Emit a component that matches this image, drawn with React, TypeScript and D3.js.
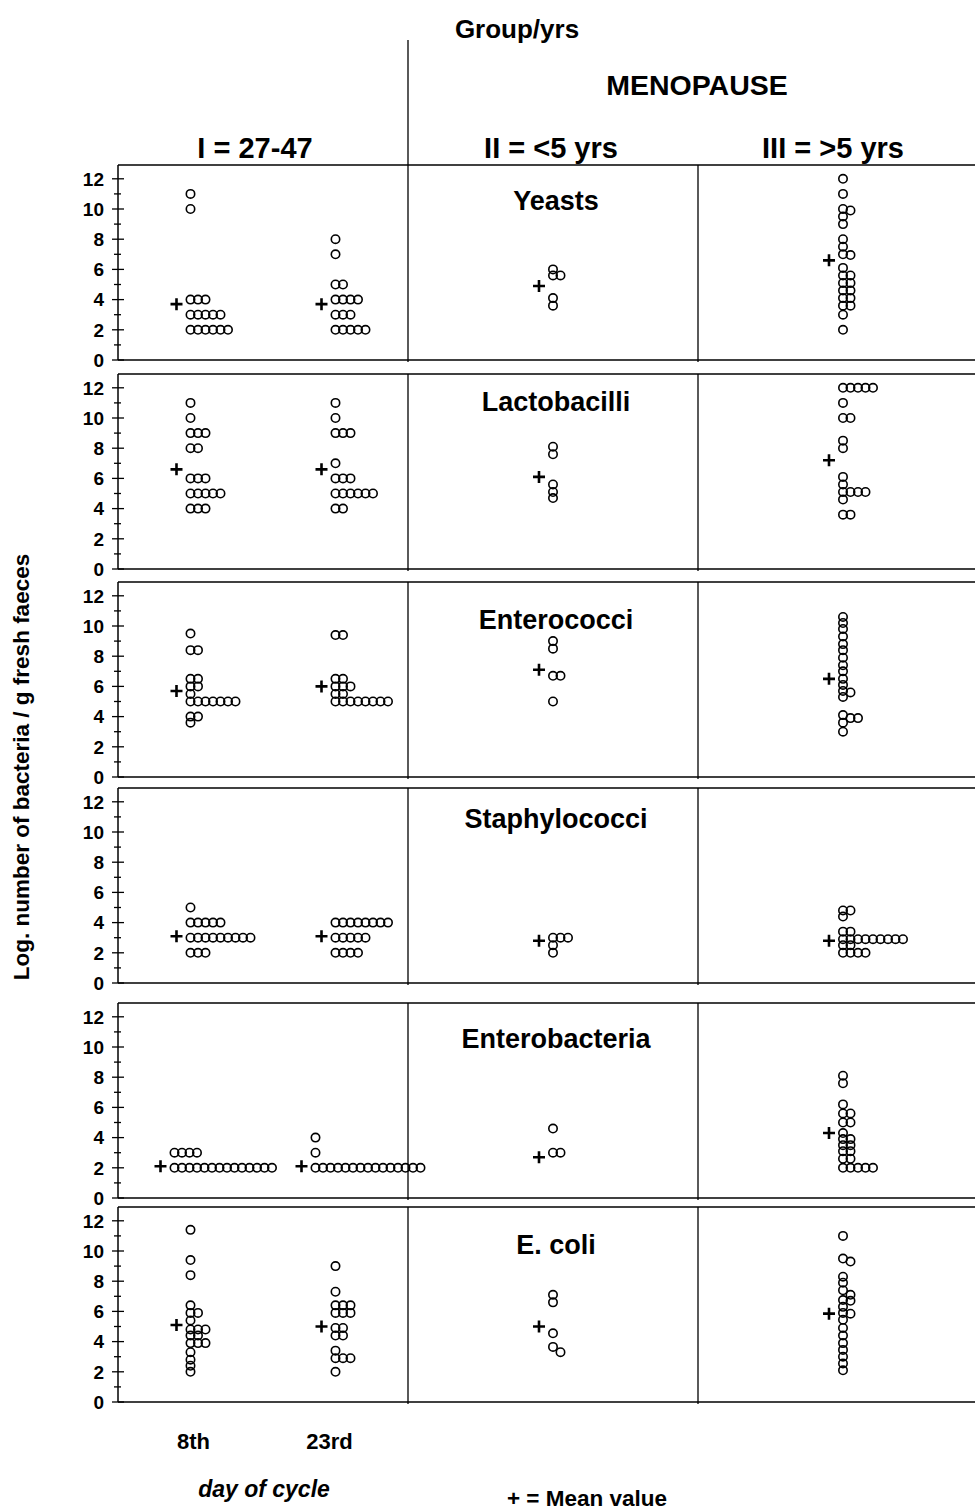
import React from 'react'
import * as d3 from 'd3'

// columns of the figure and the four dot groups
const columns = ['I', 'II', 'III']
const columnLabels = ['I = 27-47', 'II = <5 yrs', 'III = >5 yrs']
const groupColumn = ['I', 'I', 'II', 'III']
const dayLabels = ['8th', '23rd']
const panelNames = ['Yeasts', 'Lactobacilli', 'Enterococci', 'Staphylococci', 'Enterobacteria', 'E. coli']

// log counts per group: [8th, 23rd, II, III]
const yeasts = [
  [11, 10, 4, 4, 4, 3, 3, 3, 3, 3, 2, 2, 2, 2, 2, 2],
  [8, 7, 5, 5, 4, 4, 4, 4, 3, 3, 3, 2, 2, 2, 2, 2],
  [6.0, 5.6, 5.6, 4.1, 3.6],
  [12, 11, 10, 9.9, 9.5, 9.0, 8.0, 7.5, 7.0, 6.95, 6.1, 5.6, 5.6, 5.1, 5.1, 4.6, 4.6, 4.1, 4.1, 3.6, 3.6, 3.0, 2.0],
]
const lactobacilli = [
  [11, 10, 9, 9, 9, 8, 8, 6, 6, 6, 5, 5, 5, 5, 5, 4, 4, 4],
  [11, 10, 9, 9, 9, 7, 6, 6, 6, 5, 5, 5, 5, 5, 5, 4, 4],
  [8.1, 7.6, 5.6, 5.1, 4.7],
  [12, 12, 12, 12, 12, 11, 10, 10, 8.5, 8.0, 6.1, 5.6, 5.1, 5.1, 5.1, 5.1, 4.6, 3.6, 3.6],
]
const enterococci = [
  [9.5, 8.4, 8.4, 6.5, 6.5, 6.0, 6.0, 5.5, 5, 5, 5, 5, 5, 5, 5, 4.0, 4.0, 3.6],
  [9.4, 9.4, 6.5, 6.5, 6.0, 6.0, 6.0, 5.5, 5.5, 5, 5, 5, 5, 5, 5, 5, 5],
  [9.0, 8.5, 6.7, 6.7, 5.0],
  [10.6, 10.2, 9.8, 9.3, 8.8, 8.4, 7.9, 7.4, 7.0, 6.5, 6.1, 5.7, 5.6, 5.3, 4.1, 3.9, 3.9, 3.6, 3.0],
]
const staphylococci = [
  [5, 4, 4, 4, 4, 4, 3, 3, 3, 3, 3, 3, 3, 3, 3, 2, 2, 2],
  [4, 4, 4, 4, 4, 4, 4, 4, 3, 3, 3, 3, 3, 2, 2, 2, 2],
  [3.0, 3.0, 3.0, 2.5, 2.0],
  [4.8, 4.8, 4.4, 3.4, 3.4, 2.9, 2.9, 2.9, 2.9, 2.9, 2.9, 2.9, 2.9, 2.9, 2.5, 2.5, 2.0, 2.0, 2.0, 2.0],
]
const enterobacteria = [
  [3, 3, 3, 3, 2, 2, 2, 2, 2, 2, 2, 2, 2, 2, 2, 2, 2, 2],
  [4, 3, 2, 2, 2, 2, 2, 2, 2, 2, 2, 2, 2, 2, 2, 2, 2],
  [4.6, 3.0, 3.0],
  [8.1, 7.6, 6.2, 5.6, 5.6, 5.0, 5.0, 4.3, 3.9, 3.9, 3.5, 3.5, 3.1, 3.1, 2.6, 2.6, 2.0, 2.0, 2.0, 2.0, 2.0],
]
const eColi = [
  [11.4, 9.4, 8.4, 6.4, 5.9, 5.9, 5.4, 4.8, 4.8, 4.8, 4.4, 4.4, 3.9, 3.9, 3.9, 3.3, 2.8, 2.4, 2.0],
  [9.0, 7.3, 6.4, 6.4, 6.4, 5.9, 5.9, 5.9, 4.9, 4.9, 4.4, 4.4, 3.4, 2.9, 2.9, 2.9, 2.0],
  [7.1, 6.6, 4.55, 3.65, 3.3],
  [11.0, 9.5, 9.3, 8.3, 7.9, 7.4, 7.1, 6.75, 6.7, 6.3, 5.9, 5.85, 5.45, 4.9, 4.4, 3.9, 3.45, 3.0, 2.55, 2.1],
]
const panelValues = [yeasts, lactobacilli, enterococci, staphylococci, enterobacteria, eColi]

// mean values (the + markers)
const yeastsMean = [3.7, 3.7, 4.9, 6.6]
const lactobacilliMean = [6.6, 6.6, 6.1, 7.2]
const enterococciMean = [5.7, 6.0, 7.1, 6.5]
const staphylococciMean = [3.1, 3.1, 2.8, 2.8]
const enterobacteriaMean = [2.1, 2.1, 2.7, 4.3]
const eColiMean = [5.1, 5.0, 5.0, 5.85]
const panelMeans = [yeastsMean, lactobacilliMean, enterococciMean, staphylococciMean, enterobacteriaMean, eColiMean]

const yTicks = d3.range(0, 13)

// layout
const W = 975
const H = 1512
const FONT = '"Liberation Sans", Arial, Helvetica, sans-serif'
const axisX = 118
const panelBase = [360, 569, 777, 983, 1198, 1402] // y of 0 in each panel
const titleLift = [150, 158, 148, 155, 150, 148] // panel name height above 0
const unit = 15.1
const panelTop = 195
const groupFrac = [0.25, 0.75, 0.5, 0.5]
const dotR = 4.2
const dotStep = 7.5
const minGap = 5.5

const xCol = d3.scaleBand<string>().domain(columns).range([axisX, axisX + 870])

function swarm(values: number[], y: d3.ScaleLinear<number, number>, x0: number) {
  const cols: number[][] = []
  const placed = values.map((v) => {
    const yy = y(v)
    let c = 0
    while (cols[c] && cols[c].some((o) => Math.abs(o - yy) < minGap)) c++
    if (!cols[c]) cols[c] = []
    cols[c].push(yy)
    return { c, y: yy }
  })
  const shift = cols.length > 10 ? (cols.length - 10) * 4 : 0
  return placed.map((p) => ({ x: x0 - shift + p.c * dotStep, y: p.y }))
}

function Panel({ index }: { index: number }) {
  const base = panelBase[index]
  const y = d3.scaleLinear().domain([0, 12]).range([base, base - 12 * unit])
  const top = base - panelTop
  const values = panelValues[index]
  const means = panelMeans[index]
  return (
    <g>
      <line x1={axisX} x2={W} y1={top} y2={top} stroke="#000" strokeWidth={1.5} />
      <line x1={axisX} x2={W} y1={base} y2={base} stroke="#000" strokeWidth={1.5} />
      <line x1={axisX} x2={axisX} y1={top} y2={base} stroke="#000" strokeWidth={1.5} />
      {columns.slice(1).map((c) => (
        <line key={c} x1={xCol(c)} x2={xCol(c)} y1={top} y2={base + 2} stroke="#000" strokeWidth={1.3} />
      ))}
      {yTicks.map((t) => (
        <g key={t}>
          <line
            x1={axisX - (t % 2 === 0 ? 6 : 4)}
            x2={axisX + (t % 2 === 0 ? 6 : 3)}
            y1={y(t)}
            y2={y(t)}
            stroke="#000"
            strokeWidth={1.3}
          />
          {t % 2 === 0 && (
            <text x={axisX - 14} y={y(t)} dy="0.36em" textAnchor="end" fontSize={19} fontWeight="bold">
              {t}
            </text>
          )}
        </g>
      ))}
      <text
        x={xCol('II')! + xCol.bandwidth() / 2 + 3}
        y={base - titleLift[index]}
        textAnchor="middle"
        fontSize={27}
        fontWeight="bold"
      >
        {panelNames[index]}
      </text>
      {values.map((vals, g) => {
        const x0 = xCol(groupColumn[g])! + xCol.bandwidth() * groupFrac[g]
        const dots = swarm(vals, y, x0)
        const mx = d3.min(dots, (d) => d.x)! - 14
        const my = y(means[g])
        return (
          <g key={g}>
            {dots.map((d, i) => (
              <circle key={i} cx={d.x} cy={d.y} r={dotR} fill="none" stroke="#000" strokeWidth={1.6} />
            ))}
            <path d={`M${mx - 6},${my}H${mx + 6}M${mx},${my - 6}V${my + 6}`} stroke="#000" strokeWidth={2.6} />
          </g>
        )
      })}
    </g>
  )
}

export default function App() {
  const colCenters = [255, 551, 833]
  return (
    <svg
      width={W}
      height={H}
      viewBox={`0 0 ${W} ${H}`}
      style={{ position: 'absolute', left: 0, top: 0, background: '#fff' }}
      fontFamily={FONT}
    >
      <text x={517} y={38} textAnchor="middle" fontSize={26} fontWeight="bold">
        Group/yrs
      </text>
      <line x1={xCol('II')} x2={xCol('II')} y1={40} y2={panelBase[0] - panelTop} stroke="#000" strokeWidth={1.3} />
      <text x={697} y={95} textAnchor="middle" fontSize={28.5} fontWeight="bold">
        MENOPAUSE
      </text>
      {columnLabels.map((l, i) => (
        <text key={l} x={colCenters[i]} y={158} textAnchor="middle" fontSize={29} fontWeight="bold">
          {l}
        </text>
      ))}
      {panelNames.map((n, i) => (
        <Panel key={n} index={i} />
      ))}
      {dayLabels.map((d, i) => (
        <text
          key={d}
          x={xCol('I')! + xCol.bandwidth() * groupFrac[i] + (i === 0 ? 3 : -6)}
          y={1449}
          textAnchor="middle"
          fontSize={22}
          fontWeight="bold"
        >
          {d}
        </text>
      ))}
      <text x={264} y={1497} textAnchor="middle" fontSize={23} fontWeight="bold" fontStyle="italic">
        day of cycle
      </text>
      <text x={587} y={1506} textAnchor="middle" fontSize={22.5} fontWeight="bold">
        + = Mean value
      </text>
      <text
        transform={`translate(29,767) rotate(-90)`}
        textAnchor="middle"
        fontSize={22.5}
        fontWeight="bold"
      >
        Log. number of bacteria / g fresh faeces
      </text>
    </svg>
  )
}
